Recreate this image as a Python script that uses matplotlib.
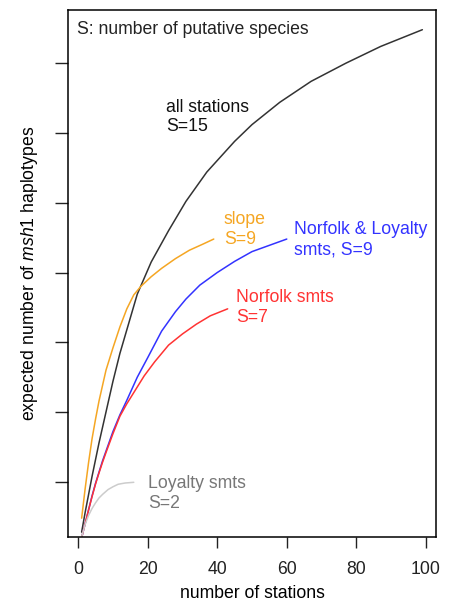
import matplotlib
matplotlib.use("Agg")
import matplotlib.pyplot as plt

plt.rcParams['font.family'] = ['Liberation Sans', 'DejaVu Sans']
plt.rcParams['mathtext.fontset'] = 'custom'
plt.rcParams['mathtext.rm'] = 'Liberation Sans'
plt.rcParams['mathtext.it'] = 'Liberation Sans:italic'

# rarefaction curves
all_x = [1, 2, 3, 4, 5, 6, 7, 8, 10, 12, 14, 17, 21, 26, 31, 37, 45, 50, 58, 67, 77, 87, 99]
all_y = [1.4, 2.8, 4.1, 5.4, 6.6, 7.8, 8.9, 10.0, 12.2, 14.2, 15.9, 18.45, 20.75, 23.0, 25.1, 27.2,
         29.4, 30.6, 32.2, 33.7, 35.0, 36.2, 37.4]

slope_x = [1, 2, 3, 4, 5, 6, 7, 8, 10, 12, 14, 16, 18, 21, 24, 28, 32, 36, 39]
slope_y = [2.4, 4.5, 6.4, 8.1, 9.5, 10.8, 11.9, 13.0, 14.6, 16.1, 17.4, 18.4, 19.0, 19.7, 20.3,
           21.0, 21.6, 22.05, 22.4]

nl_x = [1, 2, 3, 4, 5, 6, 7, 8, 10, 12, 14, 17, 20, 24, 28, 31, 35, 40, 45, 50, 55, 60]
nl_y = [1.0, 2.0, 3.0, 4.0, 4.9, 5.7, 6.5, 7.2, 8.6, 9.8, 10.85, 12.5, 13.9, 15.8, 17.2, 18.1,
        19.1, 20.0, 20.8, 21.5, 21.95, 22.4]

nor_x = [1, 2, 3, 4, 5, 6, 7, 8, 10, 12, 14, 16, 19, 22, 26, 30, 34, 38, 43]
nor_y = [1.0, 2.0, 3.0, 3.95, 4.85, 5.65, 6.4, 7.1, 8.45, 9.7, 10.6, 11.4, 12.6, 13.6, 14.8,
         15.6, 16.3, 16.9, 17.4]

loy_x = [1, 2, 3, 4, 5, 6, 7, 8.6, 10, 11.5, 13.5, 16]
loy_y = [1.05, 1.95, 2.6, 3.1, 3.5, 3.85, 4.1, 4.45, 4.65, 4.83, 4.92, 4.97]

x_ticks = [0, 20, 40, 60, 80, 100]
y_ticks = [5, 10, 15, 20, 25, 30, 35]

fig = plt.figure(figsize=(4.51, 6.04), dpi=100)
ax = fig.add_axes([0.1508, 0.1109, 0.8159, 0.8725])

kw = dict(lw=1.1, solid_joinstyle='round', solid_capstyle='round')
ax.plot(all_x, all_y, color='#333333', **kw)
ax.plot(slope_x, slope_y, color='#f5a623', **kw)
ax.plot(nl_x, nl_y, color='#3333ff', **kw)
ax.plot(nor_x, nor_y, color='#ff3333', **kw)
ax.plot(loy_x, loy_y, color='#cccccc', **kw)

fs = 12.7
ax.text(-0.4, 37.45, "S: number of putative species", fontsize=fs, va='center', color='#222222')
ax.text(25.2, 31.15, "all stations\nS=15", fontsize=fs, va='center', linespacing=1.2, color='#111111')
ax.text(41.9, 23.1, "slope\nS=9", fontsize=fs, va='center', linespacing=1.2, color='#f5a623')
ax.text(62.1, 22.35, "Norfolk & Loyalty\nsmts, S=9", fontsize=fs, va='center', linespacing=1.2, color='#3333ff')
ax.text(45.4, 17.5, "Norfolk smts\nS=7", fontsize=fs, va='center', linespacing=1.2, color='#ff3333')
ax.text(20.0, 4.17, "Loyalty smts\nS=2", fontsize=fs, va='center', linespacing=1.2, color='#777777')

ax.set_xlim(-2.92, 102.92)
ax.set_ylim(1.05, 38.81)
ax.set_xticks(x_ticks)
ax.set_yticks(y_ticks)
ax.set_yticklabels([])
ax.tick_params(axis='both', width=1, labelsize=fs, colors='#222222')
ax.tick_params(axis='x', length=8, pad=9)
ax.tick_params(axis='y', length=9.5)
for s in ax.spines.values():
    s.set_linewidth(1.1)

ax.set_xlabel("number of stations", fontsize=fs, labelpad=5)
ax.set_ylabel(r"expected number of $\it{msh1}$ haplotypes", fontsize=fs, labelpad=7)

fig.savefig("out.png", dpi=100)
